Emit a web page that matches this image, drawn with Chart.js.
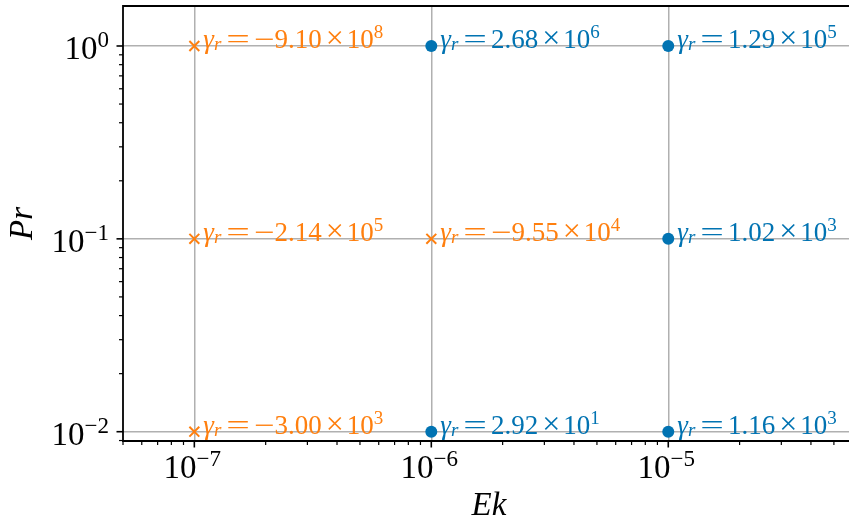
<!DOCTYPE html>
<html>
<head>
<meta charset="utf-8">
<script src="https://cdn.jsdelivr.net/npm/chart.js@4/dist/chart.umd.min.js"></script>
<style>
  html, body { margin: 0; padding: 0; background: #fff; }
  #wrap { width: 849px; height: 522px; }
</style>
</head>
<body>
<div id="wrap"><canvas id="chart" width="849" height="522"></canvas></div>
<script>
// cases: Ekman number, Prandtl number, growth rate gamma_r = mantissa x 10^exponent
var caseEk = [1e-7, 1e-6, 1e-5, 1e-7, 1e-6, 1e-5, 1e-7, 1e-6, 1e-5];
var casePr = [1, 1, 1, 0.1, 0.1, 0.1, 0.01, 0.01, 0.01];
var gammaMantissa = [-9.10, 2.68, 1.29, -2.14, -9.55, 1.02, -3.00, 2.92, 1.16];
var gammaExponent = [8, 6, 5, 5, 4, 3, 3, 1, 3];

var xRange = [5e-8, 5.79e-5];
var yRange = [0.00895, 1.612];
var xTitle = 'Ek';
var yTitle = 'Pr';

var BLUE = '#0173b2';
var ORANGE = '#ff7f0e';
var SERIF = '"Liberation Serif", "Times New Roman", serif';

function pointsWhere(test) {
    var out = [];
    for (var i = 0; i < caseEk.length; i++) {
        if (test(gammaMantissa[i])) out.push({ x: caseEk[i], y: casePr[i] });
    }
    return out;
}

// decade + minor ticks, like matplotlib LogLocator
function logTicks(scale) {
    var ticks = [];
    var e0 = Math.floor(Math.log10(scale.min)), e1 = Math.ceil(Math.log10(scale.max));
    for (var e = e0; e <= e1; e++) {
        for (var m = 1; m <= 9; m++) {
            var v = m * Math.pow(10, e);
            if (v >= scale.min * (1 - 1e-9) && v <= scale.max * (1 + 1e-9)) {
                ticks.push({ value: v, major: m === 1 });
            }
        }
    }
    scale.ticks = ticks;
}

function runWidth(ctx, pieces) {
    var w = 0;
    pieces.forEach(function (p) {
        ctx.font = p.font;
        w += (p.pre || 0) + ctx.measureText(p.t).width * (p.sx || 1) + (p.post || 0);
    });
    return w;
}

// draw a row of text pieces (mathtext-like: sub/superscripts, stretched operators)
function drawRun(ctx, x, y, pieces) {
    var cx = x;
    pieces.forEach(function (p) {
        cx += p.pre || 0;
        ctx.font = p.font;
        ctx.save();
        ctx.translate(cx, y + (p.dy || 0));
        ctx.scale(p.sx || 1, 1);
        ctx.fillText(p.t, 0, 0);
        ctx.restore();
        cx += ctx.measureText(p.t).width * (p.sx || 1) + (p.post || 0);
    });
}

function expText(e) {
    return e < 0 ? '\u2212' + (-e) : String(e);
}

function powerPieces(e) {
    return [
        { t: '10', font: '33px ' + SERIF },
        { t: expText(e), font: '23px ' + SERIF, dy: -12 }
    ];
}

function gammaPieces(m, e) {
    var p = [
        { t: '\u03b3', font: 'italic 27px ' + SERIF },
        { t: 'r', font: 'italic 19px ' + SERIF, dy: 2, post: 5 },
        { t: '=', font: '27px ' + SERIF, sx: 1.55, post: 4 }
    ];
    if (m < 0) p.push({ t: '\u2212', font: '27px ' + SERIF, sx: 1.35 });
    p.push({ t: Math.abs(m).toFixed(2), font: '27px ' + SERIF, post: 4 });
    p.push({ t: '\u00d7', font: '32px ' + SERIF, post: 3 });
    p.push({ t: '10', font: '27px ' + SERIF });
    p.push({ t: String(e), font: '19px ' + SERIF, dy: -10 });
    return p;
}

var decorPlugin = {
    id: 'decor',
    afterDraw: function (chart) {
        var ctx = chart.ctx, a = chart.chartArea;
        var xs = chart.scales.x, ys = chart.scales.y;
        ctx.save();
        ctx.strokeStyle = '#000';
        ctx.fillStyle = '#000';
        // tick marks (outward)
        xs.ticks.forEach(function (t) {
            var px = xs.getPixelForValue(t.value);
            ctx.lineWidth = t.major ? 1.6 : 1.2;
            ctx.beginPath();
            ctx.moveTo(px, a.bottom);
            ctx.lineTo(px, a.bottom + (t.major ? 6.5 : 4));
            ctx.stroke();
        });
        ys.ticks.forEach(function (t) {
            var py = ys.getPixelForValue(t.value);
            ctx.lineWidth = t.major ? 1.6 : 1.2;
            ctx.beginPath();
            ctx.moveTo(a.left, py);
            ctx.lineTo(a.left - (t.major ? 6.5 : 4), py);
            ctx.stroke();
        });
        // spines
        ctx.lineWidth = 1.8;
        ctx.beginPath();
        ctx.moveTo(a.right, a.top);
        ctx.lineTo(a.left, a.top);
        ctx.lineTo(a.left, a.bottom);
        ctx.lineTo(a.right, a.bottom);
        ctx.stroke();
        // tick labels
        ctx.textBaseline = 'alphabetic';
        ctx.textAlign = 'left';
        xs.ticks.forEach(function (t) {
            if (!t.major) return;
            var pcs = powerPieces(Math.round(Math.log10(t.value)));
            var w = runWidth(ctx, pcs);
            drawRun(ctx, xs.getPixelForValue(t.value) - w / 2 - 2, a.bottom + 37, pcs);
        });
        ys.ticks.forEach(function (t) {
            if (!t.major) return;
            var pcs = powerPieces(Math.round(Math.log10(t.value)));
            var w = runWidth(ctx, pcs);
            drawRun(ctx, a.left - 14 - w, ys.getPixelForValue(t.value) + 13, pcs);
        });
        // axis titles
        ctx.font = 'italic 33px ' + SERIF;
        ctx.textAlign = 'center';
        ctx.fillText(xTitle, 489, 515);
        ctx.save();
        ctx.translate(32, (a.top + a.bottom) / 2);
        ctx.rotate(-Math.PI / 2);
        ctx.fillText(yTitle, 0, 0);
        ctx.restore();
        // annotations
        ctx.textAlign = 'left';
        for (var i = 0; i < caseEk.length; i++) {
            ctx.fillStyle = gammaMantissa[i] < 0 ? ORANGE : BLUE;
            drawRun(ctx, xs.getPixelForValue(caseEk[i]) + 9, ys.getPixelForValue(casePr[i]) + 2,
                gammaPieces(gammaMantissa[i], gammaExponent[i]));
        }
        ctx.restore();
    }
};

var axisBase = {
    type: 'logarithmic',
    bounds: 'data',
    afterBuildTicks: logTicks,
    ticks: { display: false, autoSkip: false },
    border: { display: false },
    grid: {
        drawTicks: false,
        lineWidth: 1.5,
        color: function (c) { return c.tick && c.tick.major ? '#b0b0b0' : 'rgba(0,0,0,0)'; }
    }
};

new Chart(document.getElementById('chart'), {
    type: 'scatter',
    data: {
        datasets: [{
            label: 'positive',
            data: pointsWhere(function (m) { return m > 0; }),
            pointStyle: 'circle',
            pointRadius: 6,
            pointBackgroundColor: BLUE,
            pointBorderColor: BLUE,
            pointBorderWidth: 0
        }, {
            label: 'negative',
            data: pointsWhere(function (m) { return m < 0; }),
            pointStyle: 'crossRot',
            pointRadius: 7,
            pointBorderColor: ORANGE,
            pointBorderWidth: 2
        }]
    },
    options: {
        responsive: false,
        animation: false,
        devicePixelRatio: 1,
        layout: { autoPadding: false, padding: { left: 123, top: 6, right: 0, bottom: 81 } },
        plugins: { legend: { display: false }, tooltip: { enabled: false } },
        scales: {
            x: Object.assign({}, axisBase, { min: xRange[0], max: xRange[1] }),
            y: Object.assign({}, axisBase, { min: yRange[0], max: yRange[1] })
        }
    },
    plugins: [decorPlugin]
});
</script>
</body>
</html>
